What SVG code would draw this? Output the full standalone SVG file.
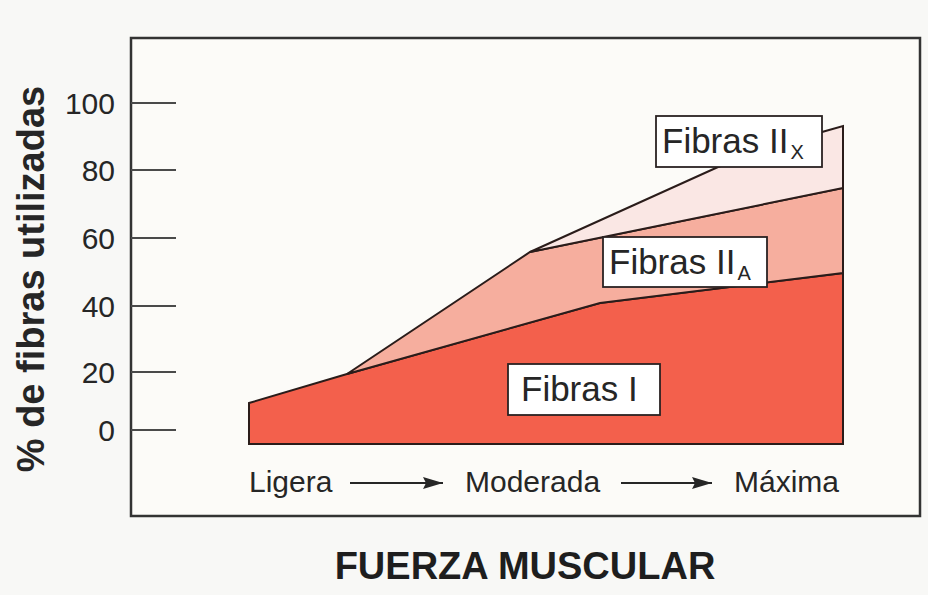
<svg xmlns="http://www.w3.org/2000/svg" width="928" height="595" viewBox="0 0 928 595">
<defs>
<style>
.t{font-family:"Liberation Sans",Arial,Helvetica,sans-serif;fill:#262626}
.tick{stroke:#4a4a4a;stroke-width:2}
.num{font-size:30px;text-anchor:end}
.area{stroke:#2a1c1a;stroke-width:2;stroke-linejoin:miter}
.box{fill:#ffffff;stroke:#2a2222;stroke-width:1.8}
.lab{font-size:35px}
.sub{font-size:20px}
.ax{font-size:30px}
.arr{stroke:#262626;stroke-width:2;fill:none}
</style>
<marker id="ah2" viewBox="0 0 20 14" refX="20" refY="7" markerWidth="20" markerHeight="14" markerUnits="userSpaceOnUse" orient="auto">
<path d="M0,1 L20,7 L0,13 L3,7 z" fill="#262626"/>
</marker>
</defs>
<rect x="0" y="0" width="928" height="595" fill="#f8f8f6"/>
<g id="frame">
<rect x="131" y="38" width="789" height="478" fill="#fcfbf8" stroke="#333" stroke-width="2.5"/>
</g>
<g id="yaxis">
<line class="tick" x1="131" y1="103" x2="176" y2="103"/>
<line class="tick" x1="131" y1="170" x2="176" y2="170"/>
<line class="tick" x1="131" y1="238" x2="176" y2="238"/>
<line class="tick" x1="131" y1="306" x2="176" y2="306"/>
<line class="tick" x1="131" y1="372" x2="176" y2="372"/>
<line class="tick" x1="131" y1="430" x2="176" y2="430"/>
<text class="t num" x="115" y="114">100</text>
<text class="t num" x="115" y="181">80</text>
<text class="t num" x="115" y="249">60</text>
<text class="t num" x="115" y="317">40</text>
<text class="t num" x="115" y="383">20</text>
<text class="t num" x="115" y="441">0</text>
<text class="t" x="0" y="0" transform="translate(44,279) rotate(-90)" style="font-size:38px;font-weight:bold;text-anchor:middle">% de fibras utilizadas</text>
</g>
<g id="fibras-I-area">
<polygon class="area" fill="#f3604c" points="249,403 347,374 600,303 843,273 843,444 249,444"/>
</g>
<g id="fibras-IIA-area">
<polygon class="area" fill="#f6ae9e" points="347,374 530,252 843,188 843,273 600,303"/>
</g>
<g id="fibras-IIX-area">
<polygon class="area" fill="#fae7e4" points="530,252 718,167 822,132 843,126 843,188"/>
</g>
<g id="label-IIX">
<rect class="box" x="656" y="116" width="166" height="51"/>
<text class="t lab" x="662" y="153">Fibras II<tspan class="sub" dx="2" dy="6">X</tspan></text>
</g>
<g id="label-IIA">
<rect class="box" x="603" y="237" width="164" height="50"/>
<text class="t lab" x="609" y="274">Fibras II<tspan class="sub" dx="2" dy="6">A</tspan></text>
</g>
<g id="label-I">
<rect class="box" x="508" y="364" width="152" height="51"/>
<text class="t lab" x="521" y="401">Fibras I</text>
</g>
<g id="xlabels">
<text class="t ax" x="249" y="492">Ligera</text>
<text class="t ax" x="465" y="492">Moderada</text>
<text class="t ax" x="734" y="492">Máxima</text>
</g>
<g id="connectors">
<line class="arr" x1="350" y1="483" x2="443" y2="483" marker-end="url(#ah2)"/>
<line class="arr" x1="621" y1="483" x2="712" y2="483" marker-end="url(#ah2)"/>
</g>
<g id="title">
<text class="t" x="525" y="579" style="font-size:38px;font-weight:bold;text-anchor:middle;fill:#1e1e1e">FUERZA MUSCULAR</text>
</g>
</svg>
